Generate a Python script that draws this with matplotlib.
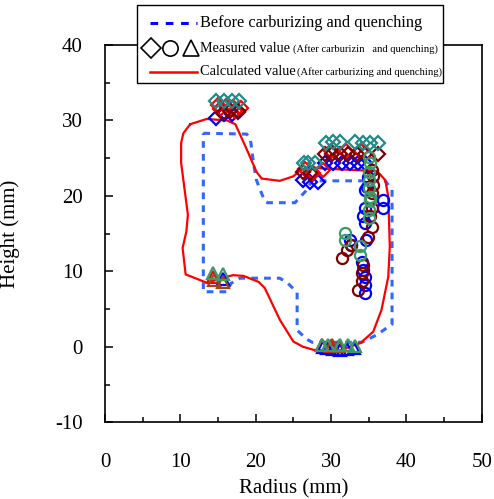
import matplotlib.pyplot as plt
from matplotlib.lines import Line2D
from matplotlib.patches import Rectangle

plt.rcParams['font.family'] = ['Liberation Serif', 'DejaVu Serif']
plt.rcParams['axes.unicode_minus'] = False

# shape before carburizing and quenching (blue dashed)
before_x = [13.05, 18.8, 19.3, 19.7, 20.1, 20.6, 21.2, 21.6, 25.2, 26.6, 27.5, 37.2, 38.1, 38.1,
            36.1, 34.1, 27.5, 26.8, 25.5, 25.5, 24.3, 23.2, 17.9, 16.7, 16.2, 13.05, 13.05]
before_y = [28.3, 28.2, 27.5, 24.4, 22.1, 20.8, 19.3, 19.1, 19.1, 20.6, 22.0, 22.0, 20.8, 3.0,
            1.6, 0.6, 0.6, 1.0, 2.2, 7.2, 8.4, 9.1, 9.1, 8.4, 7.3, 7.3, 28.3]

# calculated shape (red line)
calc_x = [11.3, 13.5, 16.2, 17.3, 18.8, 20.1, 20.8, 23.2, 25.0, 25.9, 27.2, 29.4, 36.1, 37.2,
          37.6, 37.8, 37.6, 36.7, 35.6, 33.9, 30.8, 27.7, 26.3, 25.0, 23.2, 21.2, 20.4, 18.4,
          17.0, 16.2, 13.5, 10.7, 10.3, 10.8, 11.0, 10.1, 10.1, 10.4, 11.3]
calc_y = [29.5, 30.2, 30.0, 29.5, 26.2, 23.2, 22.3, 22.0, 22.6, 23.4, 23.8, 23.6, 23.3, 22.1,
          19.9, 13.3, 9.3, 4.9, 2.0, 0.5, -0.6, -0.4, 0.0, 0.7, 3.6, 7.8, 8.6, 9.4,
          9.5, 9.3, 8.5, 9.6, 13.1, 15.3, 17.5, 24.4, 27.0, 28.3, 29.5]

# measured values
dia_blue_x = [14.7, 15.8, 16.8, 17.7, 26.3, 27.2, 28.3, 29.2, 30.3, 31.4, 32.5, 33.6, 34.5]
dia_blue_y = [30.3, 30.8, 30.9, 31.1, 22.1, 21.9, 21.9, 24.3, 24.4, 24.3, 24.4, 24.3, 24.4]
dia_maroon_x = [15.6, 16.6, 17.6, 26.3, 27.2, 29.2, 30.1, 31.2, 32.3, 33.4, 34.5, 36.3]
dia_maroon_y = [31.0, 31.2, 31.3, 23.2, 23.0, 25.6, 25.6, 25.6, 25.6, 25.6, 25.6, 25.6]
dia_red_x = [15.0, 16.0, 17.0, 18.0, 15.3, 17.3, 26.6, 27.6, 29.0, 30.0, 32.0, 34.0]
dia_red_y = [32.0, 31.9, 31.8, 31.7, 31.5, 31.3, 23.6, 23.0, 23.5, 25.9, 26.0, 25.9]
dia_teal_x = [14.7, 15.8, 16.8, 17.8, 26.4, 27.0, 27.9, 29.3, 30.2, 31.2, 33.2, 34.2, 35.2, 36.3]
dia_teal_y = [32.6, 32.6, 32.6, 32.6, 24.3, 24.3, 24.4, 27.0, 27.2, 27.1, 27.2, 27.0, 27.0, 27.0]

circ_blue_x = [34.9, 34.8, 36.9, 36.9, 34.5, 34.5, 34.3, 34.5, 34.7, 32.5, 32.7, 34.1, 34.3, 34.5, 34.5, 34.5]
circ_blue_y = [22.5, 21.2, 19.5, 18.4, 20.8, 18.4, 17.3, 16.4, 14.2, 14.2, 13.5, 11.3, 10.2, 9.3, 8.2, 7.1]
circ_maroon_x = [35.4, 35.6, 35.6, 35.4, 35.2, 35.5, 35.2, 35.4, 34.9, 31.4, 32.1, 32.6, 34.3, 34.1, 34.1, 33.6]
circ_maroon_y = [23.5, 22.6, 21.5, 20.4, 19.5, 18.4, 17.3, 15.9, 14.6, 11.8, 12.9, 13.5, 10.9, 9.8, 8.7, 7.5]
circ_green_x = [35.1, 35.2, 35.1, 35.1, 35.1, 35.2, 35.2, 35.1, 35.1, 31.9, 31.9, 33.9, 33.9]
circ_green_y = [25.2, 24.3, 23.2, 22.1, 21.0, 19.9, 19.3, 18.2, 17.1, 15.1, 14.2, 13.3, 12.2]

tri_blue_x = [15.6, 28.9, 29.4, 30.3, 31.2, 32.1, 33.0]
tri_blue_y = [9.0, 0.0, -0.2, -0.3, -0.4, -0.3, -0.1]
tri_red_x = [14.3, 28.8, 30.0]
tri_red_y = [9.3, 0.2, 0.1]
tri_brown_x = [14.4, 15.7, 30.1, 31.0]
tri_brown_y = [8.8, 8.6, 0.2, 0.1]
tri_green_x = [14.3, 15.6, 28.8, 29.6, 31.2, 32.2, 33.2]
tri_green_y = [9.8, 9.7, 0.3, 0.3, 0.2, 0.2, 0.1]

fig = plt.figure(figsize=(4.94, 4.99), dpi=100)
ax = fig.add_axes([0.2126, 0.1537, 0.7625, 0.7561])

ax.plot(before_x, before_y, color='#3366ff', lw=2.2, dashes=(2.2, 2.0), zorder=2)
ax.plot(calc_x, calc_y, color='#ff0000', lw=1.6, zorder=3)

mk = dict(ls='none', mfc='none', mew=1.6, zorder=4)
ax.plot(dia_blue_x, dia_blue_y, marker='D', ms=7, mec='#0000ff', **mk)
ax.plot(dia_red_x, dia_red_y, marker='D', ms=7, mec='#ff0000', **mk)
ax.plot(dia_maroon_x, dia_maroon_y, marker='D', ms=7, mec='#800000', **mk)
ax.plot(dia_teal_x, dia_teal_y, marker='D', ms=7, mec='#218a8a', **mk)
ax.plot(circ_blue_x, circ_blue_y, marker='o', ms=8, mec='#0000ff', **mk)
ax.plot(circ_maroon_x, circ_maroon_y, marker='o', ms=8, mec='#800000', **mk)
ax.plot(circ_green_x, circ_green_y, marker='o', ms=8, mec='#3a9a6a', **mk)
ax.plot(tri_blue_x, tri_blue_y, marker='^', ms=8, mec='#0000ff', **mk)
ax.plot(tri_red_x, tri_red_y, marker='^', ms=8, mec='#ff0000', **mk)
ax.plot(tri_brown_x, tri_brown_y, marker='^', ms=8, mec='#a0421e', **mk)
ax.plot(tri_green_x, tri_green_y, marker='^', ms=8, mec='#3a9a6a', **mk)

ax.set_xlim(0, 50)
ax.set_ylim(-10, 40)
ax.set_xticks(range(0, 51, 10))
ax.set_yticks(range(-10, 41, 10))
ax.set_xticks(range(5, 50, 10), minor=True)
ax.set_yticks(range(-5, 40, 10), minor=True)
ax.tick_params(which='both', direction='in', top=False, right=False, width=1.1, labelsize=15)
ax.tick_params(which='major', length=6)
ax.tick_params(which='minor', length=3.5)
ax.tick_params(axis='x', pad=22)
ax.tick_params(axis='y', pad=16)
for s in ax.spines.values():
    s.set_linewidth(1.2)

ax.set_xlabel('Radius (mm)', fontsize=15)
ax.set_ylabel('Height (mm)', fontsize=15)
ax.xaxis.set_label_coords(0.5, -0.15)
ax.yaxis.set_label_coords(-0.225, 0.5)

# legend drawn by hand in figure pixels
W, H = 494.0, 499.0
def fx(px):
    return px / W
def fy(py):
    return 1 - py / H

fig.add_artist(Rectangle((fx(137), fy(83)), fx(443) - fx(137), fy(5) - fy(83),
                         facecolor='white', edgecolor='black', lw=1.0, zorder=10))
fig.add_artist(Line2D([fx(150), fx(197)], [fy(22.7), fy(22.7)], color='#0000ff', lw=2.2,
                      dashes=(2.5, 2.5), zorder=11))
fig.add_artist(Line2D([fx(150), fx(197)], [fy(71.7), fy(71.7)], color='#ff0000', lw=1.8, zorder=11))
for mx, m in [(151, 'D'), (170, 'o'), (191, '^')]:
    fig.add_artist(Line2D([fx(mx)], [fy(48)], marker=m, ms=11 if m != 'D' else 10,
                          mfc='none', mec='black', mew=1.2, ls='none', zorder=11))
fig.text(fx(200), fy(22.7), 'Before carburizing and quenching', fontsize=11.7, va='center', zorder=12)
fig.text(fx(200), fy(48.5), 'Measured value', fontsize=10.2, va='center', zorder=12)
fig.text(fx(293), fy(49), '(After carburizin   and quenching)', fontsize=7.6, va='center', zorder=12)
fig.text(fx(200), fy(71.7), 'Calculated value', fontsize=10.4, va='center', zorder=12)
fig.text(fx(297), fy(72), '(After carburizing and quenching)', fontsize=7.6, va='center', zorder=12)

fig.savefig('out.png', dpi=100)
